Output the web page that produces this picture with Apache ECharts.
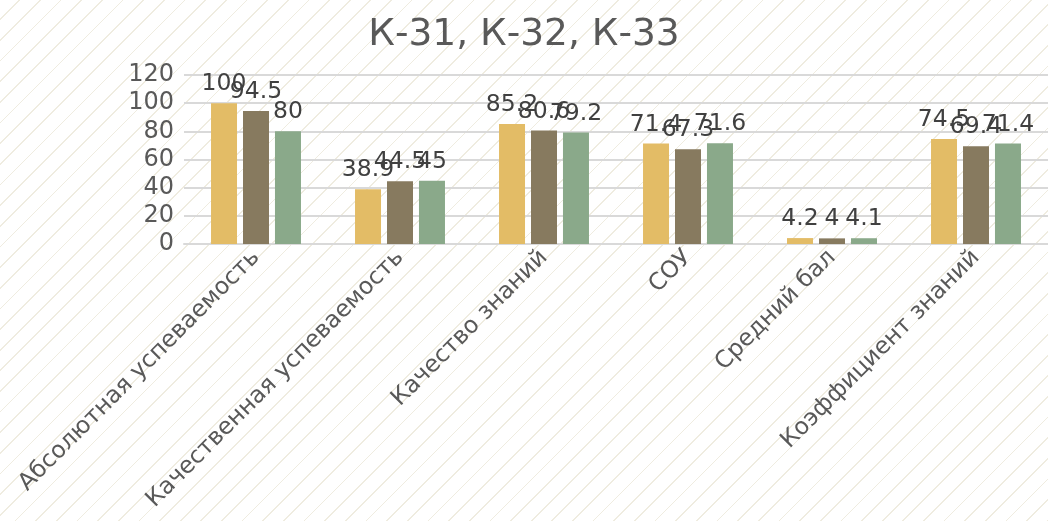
<!DOCTYPE html>
<html><head><meta charset="utf-8">
<script src="https://cdn.jsdelivr.net/npm/echarts@6/dist/echarts.min.js"></script>
<style>
html,body{margin:0;padding:0;}
#c{width:1048px;height:521px;background:#fff repeating-linear-gradient(135deg,#fff 0px,#fff 13.4px,#efece0 13.4px,#efece0 14.6px);}
</style></head><body>
<div id="c"></div>
<script>
const categories = ['Абсолютная успеваемость','Качественная успеваемость','Качество знаний','СОУ','Средний бал','Коэффициент знаний'];
const seriesNames = ['К-31','К-32','К-33'];
const k31 = [100, 38.9, 85.2, 71.4, 4.2, 74.5];
const k32 = [94.5, 44.5, 80.6, 67.3, 4, 69.4];
const k33 = [80, 45, 79.2, 71.6, 4.1, 71.4];
const yTicks = {min:0, max:120, interval:20};

const colors = ['#E3BC66','#877A5F','#8AA98A'];
const chart = echarts.init(document.getElementById('c'));
const font = 'DejaVu Sans';
function mk(name, data, i){
  return {name, type:'bar', data, itemStyle:{color:colors[i]}, barWidth:26, barGap:'23%',
    label:{show:true, position:'top', distance:7, color:'#404040', fontSize:23.5, fontFamily:font}};
}
chart.setOption({
  backgroundColor:'transparent',
  animation:false,
  title:{text:'К-31, К-32, К-33', left:'center', top:11, textStyle:{color:'#595959', fontSize:37.5, fontWeight:'normal', fontFamily:font}},
  grid:{left:184, right:0, top:75, bottom:277, containLabel:false},
  xAxis:{type:'category', data:categories, axisTick:{show:false},
    axisLine:{lineStyle:{color:'#d9d9d9', width:2}},
    axisLabel:{rotate:45, interval:0, margin:10, color:'#595959', fontSize:23.5, fontFamily:font}},
  yAxis:{type:'value', min:yTicks.min, max:yTicks.max, interval:yTicks.interval,
    axisLine:{show:false}, axisTick:{show:false},
    splitLine:{lineStyle:{color:'#d9d9d9', width:2}},
    axisLabel:{color:'#595959', fontSize:24, fontFamily:font, margin:10}},
  series:[mk(seriesNames[0],k31,0), mk(seriesNames[1],k32,1), mk(seriesNames[2],k33,2)]
});
</script></body></html>
